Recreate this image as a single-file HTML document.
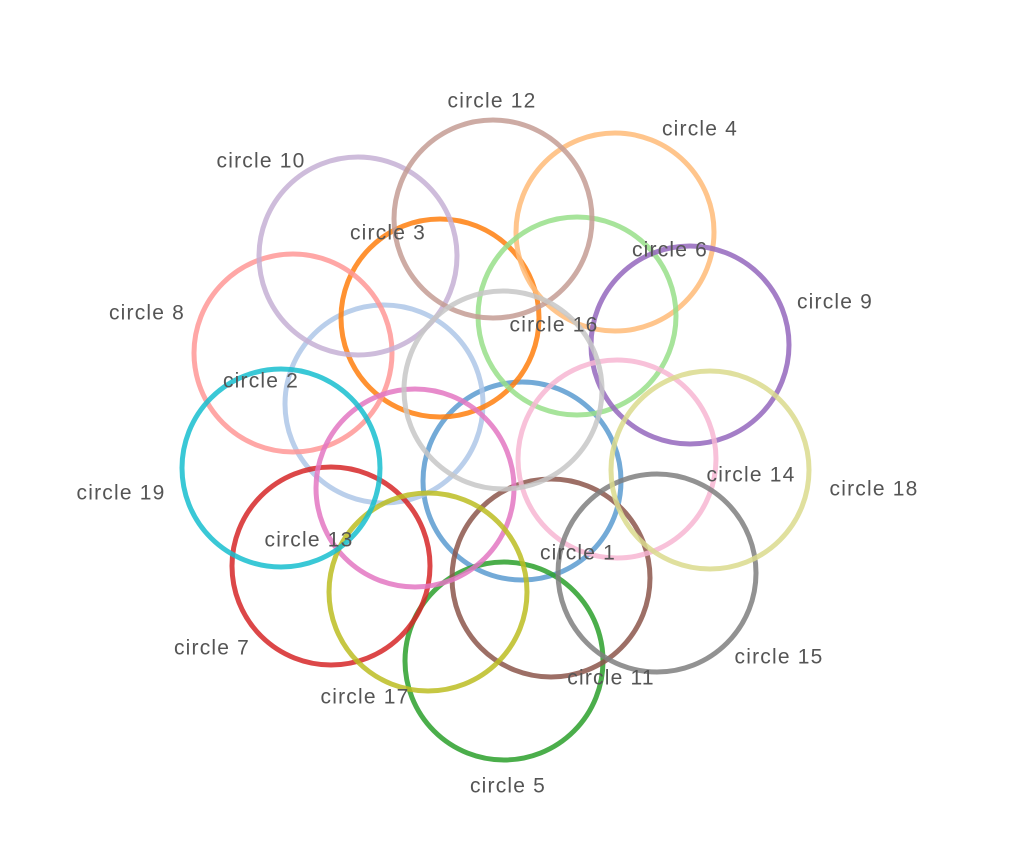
<!DOCTYPE html>
<html><head><meta charset="utf-8"><style>html,body{margin:0;padding:0;background:#fff;}svg{display:block}</style></head>
<body>
<svg width="1010" height="856" xmlns="http://www.w3.org/2000/svg">
<g fill="none" stroke-width="5" stroke-opacity="0.85">
<circle cx="522" cy="481" r="99" stroke="#5b9bd0"/>
<circle cx="384" cy="404" r="99" stroke="#aec7e8"/>
<circle cx="440" cy="318" r="99" stroke="#ff7f0e"/>
<circle cx="615" cy="232" r="99" stroke="#ffbb78"/>
<circle cx="504" cy="661" r="99" stroke="#2ca02c"/>
<circle cx="577" cy="316" r="99" stroke="#98df8a"/>
<circle cx="331" cy="566" r="99" stroke="#d62728"/>
<circle cx="293" cy="353" r="99" stroke="#ff9896"/>
<circle cx="690" cy="345" r="99" stroke="#9467bd"/>
<circle cx="358" cy="256" r="99" stroke="#c5b0d5"/>
<circle cx="551" cy="578" r="99" stroke="#8c564b"/>
<circle cx="493" cy="219" r="99" stroke="#c49c94"/>
<circle cx="415" cy="488" r="99" stroke="#e377c2"/>
<circle cx="617" cy="459" r="99" stroke="#f7b6d2"/>
<circle cx="657" cy="573" r="99" stroke="#7f7f7f"/>
<circle cx="503" cy="390" r="99" stroke="#c7c7c7"/>
<circle cx="428" cy="592" r="99" stroke="#bcbd22"/>
<circle cx="710" cy="470" r="99" stroke="#dbdb8d"/>
<circle cx="281" cy="468" r="99" stroke="#17becf"/>
</g>
<g font-family="Liberation Sans, sans-serif" font-size="21" letter-spacing="1.2" fill="#555" text-anchor="middle" dominant-baseline="central">
<text x="492" y="101">circle 12</text>
<text x="700" y="129">circle 4</text>
<text x="261" y="161">circle 10</text>
<text x="388" y="233">circle 3</text>
<text x="670" y="250">circle 6</text>
<text x="835" y="302">circle 9</text>
<text x="147" y="313">circle 8</text>
<text x="554" y="325">circle 16</text>
<text x="261" y="381">circle 2</text>
<text x="751" y="475">circle 14</text>
<text x="874" y="489">circle 18</text>
<text x="121" y="493">circle 19</text>
<text x="309" y="540">circle 13</text>
<text x="578" y="553">circle 1</text>
<text x="212" y="648">circle 7</text>
<text x="779" y="657">circle 15</text>
<text x="611" y="678">circle 11</text>
<text x="365" y="697">circle 17</text>
<text x="508" y="786">circle 5</text>
</g>
</svg>
</body></html>
